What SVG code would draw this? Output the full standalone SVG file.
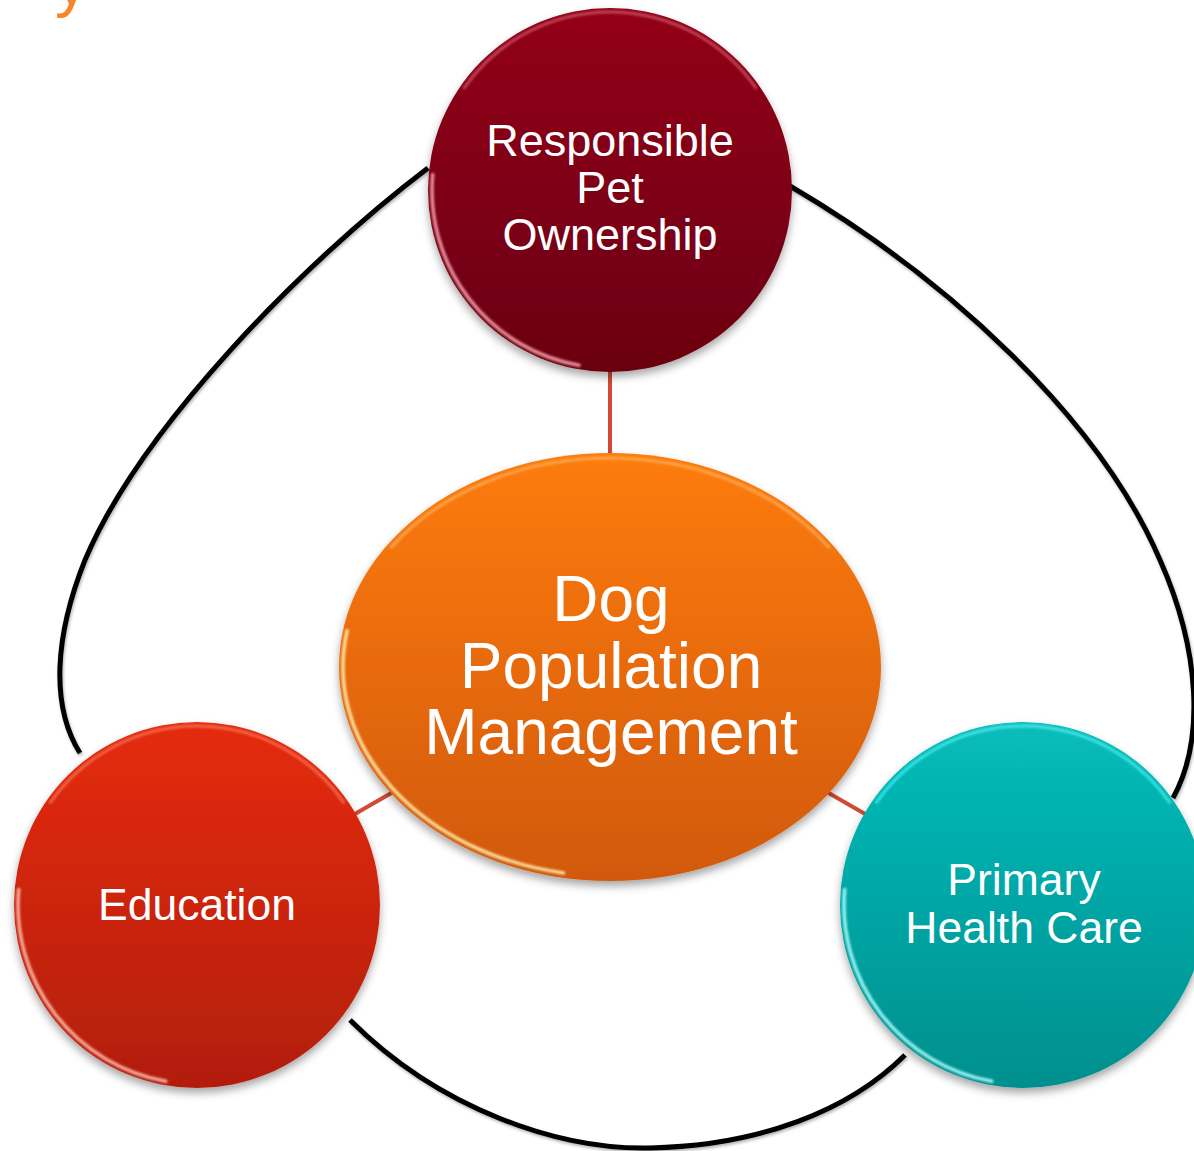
<svg xmlns="http://www.w3.org/2000/svg" width="1194" height="1151" viewBox="0 0 1194 1151">
<style>
.lbl{font-family:"Liberation Sans",Arial,sans-serif;fill:#ffffff;text-anchor:middle}
.arc{fill:none;stroke:#000000;stroke-width:5;stroke-linecap:butt}
.link{stroke:#d24a33;stroke-width:4}
.hl{fill:none;stroke-linecap:round}
</style>
<defs>
<linearGradient id="gTop" x1="0" y1="0" x2="0" y2="1"><stop offset="0" stop-color="#930019"/><stop offset="1" stop-color="#6a0010"/></linearGradient>
<linearGradient id="gMid" x1="0" y1="0" x2="0" y2="1"><stop offset="0" stop-color="#fd7c0f"/><stop offset="1" stop-color="#d25908"/></linearGradient>
<linearGradient id="gEdu" x1="0" y1="0" x2="0" y2="1"><stop offset="0" stop-color="#e52b0f"/><stop offset="1" stop-color="#b21e0a"/></linearGradient>
<linearGradient id="gPhc" x1="0" y1="0" x2="0" y2="1"><stop offset="0" stop-color="#07bdbb"/><stop offset="1" stop-color="#018f8e"/></linearGradient>
<filter id="sh" x="-20%" y="-20%" width="140%" height="140%"><feDropShadow dx="0" dy="5" stdDeviation="4" flood-color="#000" flood-opacity="0.35"/></filter>
<filter id="ash" x="-10%" y="-10%" width="120%" height="120%"><feDropShadow dx="1" dy="2" stdDeviation="1.5" flood-color="#000" flood-opacity="0.3"/></filter>
<filter id="blur"><feGaussianBlur stdDeviation="0.8"/></filter>
</defs>

<text x="55" y="4" font-family="Liberation Sans,Arial,sans-serif" font-size="66" fill="#f5862a">y</text>

<g id="connectors">
<path class="arc" filter="url(#ash)" d="M428,168 C300,265 140,430 85,560 C55,635 50,705 80,753"/>
<path class="arc" filter="url(#ash)" d="M790,186 C950,280 1100,420 1160,560 C1200,650 1205,740 1173,798"/>
<path class="arc" filter="url(#ash)" d="M350,1020 C440,1110 560,1150 650,1148 C760,1146 850,1110 905,1055"/>
<line class="link" x1="610" y1="190" x2="610" y2="667"/>
<line class="link" x1="197" y1="905" x2="610" y2="667"/>
<line class="link" x1="1023" y1="905" x2="610" y2="667"/>
</g>

<g id="node-responsible">
<circle cx="610" cy="190" r="182" fill="url(#gTop)" filter="url(#sh)"/>
<path class="hl" d="M464.2,87.8 A178,178 0 0 1 755.8,87.8" stroke="#e07080" stroke-width="3" stroke-opacity="0.6" filter="url(#blur)"/>
<path class="hl" d="M579.1,365.3 A178,178 0 0 1 432.7,174.5" stroke="#ffb0bc" stroke-width="3.5" stroke-opacity="0.8" filter="url(#blur)"/>
<text class="lbl" font-size="45"><tspan x="610" y="156">Responsible</tspan><tspan x="610" y="203">Pet</tspan><tspan x="610" y="250">Ownership</tspan></text>
</g>

<g id="node-dpm">
<ellipse cx="610" cy="667" rx="271" ry="214" fill="url(#gMid)" filter="url(#sh)"/>
<path class="hl" d="M391.3,547.1 A267,209 0 0 1 828.7,547.1" stroke="#ffc070" stroke-width="3" stroke-opacity="0.6" filter="url(#blur)"/>
<path class="hl" d="M563.6,872.9 A267,209 0 0 1 347.1,630.7" stroke="#fff0b0" stroke-width="3.5" stroke-opacity="0.85" filter="url(#blur)"/>
<text class="lbl" font-size="64"><tspan x="611" y="621">Dog</tspan><tspan x="611" y="688">Population</tspan><tspan x="611" y="754">Management</tspan></text>
</g>

<g id="node-education">
<circle cx="197" cy="905" r="183" fill="url(#gEdu)" filter="url(#sh)"/>
<path class="hl" d="M50.4,802.3 A179,179 0 0 1 343.6,802.3" stroke="#ff8a70" stroke-width="3" stroke-opacity="0.6" filter="url(#blur)"/>
<path class="hl" d="M165.9,1081.3 A179,179 0 0 1 18.7,889.4" stroke="#ffc0b0" stroke-width="3.5" stroke-opacity="0.85" filter="url(#blur)"/>
<text class="lbl" font-size="44.5" x="197" y="920">Education</text>
</g>

<g id="node-phc">
<circle cx="1023" cy="905" r="183" fill="url(#gPhc)" filter="url(#sh)"/>
<path class="hl" d="M876.4,802.3 A179,179 0 0 1 1169.6,802.3" stroke="#60ffff" stroke-width="3" stroke-opacity="0.6" filter="url(#blur)"/>
<path class="hl" d="M991.9,1081.3 A179,179 0 0 1 844.7,889.4" stroke="#b0ffff" stroke-width="3.5" stroke-opacity="0.85" filter="url(#blur)"/>
<text class="lbl" font-size="44.5"><tspan x="1024" y="895">Primary</tspan><tspan x="1024" y="943">Health Care</tspan></text>
</g>
</svg>
